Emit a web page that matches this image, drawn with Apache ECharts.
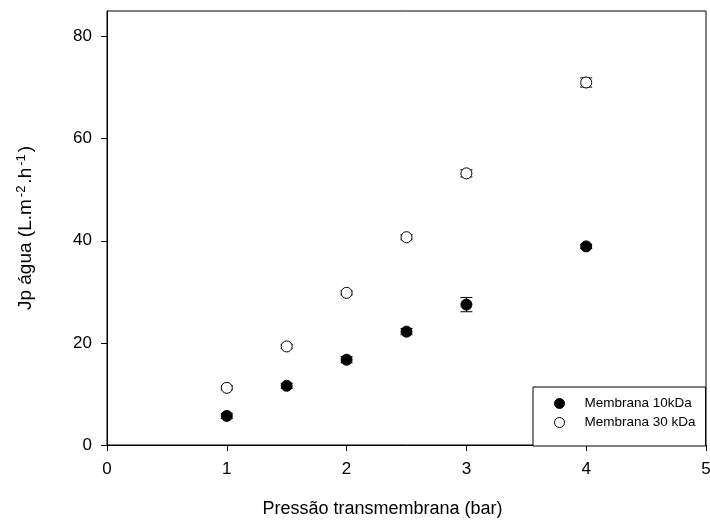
<!DOCTYPE html>
<html><head><meta charset="utf-8">
<script src="https://cdn.jsdelivr.net/npm/echarts@6/dist/echarts.min.js"></script>
<style>html,body{margin:0;padding:0;background:#fff}#c{width:710px;height:521px}</style>
</head><body><div id="c"></div>
<script>
const pressure = [1, 1.5, 2, 2.5, 3, 4];
const flux10 = [5.7, 11.6, 16.7, 22.2, 27.5, 38.9];
const err10 = [0.5, 0.5, 0.6, 0.6, 1.4, 0.4];
const flux30 = [11.2, 19.3, 29.8, 40.7, 53.2, 71.0];
const err30 = [0.4, 0.4, 0.4, 0.5, 0.7, 0.9];
const xTicks = [0, 1, 2, 3, 4, 5];
const yTicks = [0, 20, 40, 60, 80];
const seriesNames = ['Membrana 10kDa', 'Membrana 30 kDa'];

const font = 'Liberation Sans, Arial, sans-serif';
const chart = echarts.init(document.getElementById('c'));

function errData(ys, es) { return pressure.map((x, i) => [x, ys[i] - es[i], ys[i] + es[i]]); }
function renderErr(params, api) {
  const x = api.value(0);
  const lo = api.coord([x, api.value(1)]);
  const hi = api.coord([x, api.value(2)]);
  const hw = 6;
  const st = { stroke: '#000', lineWidth: 1 };
  return { type: 'group', children: [
    { type: 'line', shape: { x1: lo[0], y1: lo[1], x2: hi[0], y2: hi[1] }, style: st },
    { type: 'line', shape: { x1: lo[0] - hw, y1: lo[1], x2: lo[0] + hw, y2: lo[1] }, style: st },
    { type: 'line', shape: { x1: hi[0] - hw, y1: hi[1], x2: hi[0] + hw, y2: hi[1] }, style: st }
  ]};
}

chart.setOption({
  animation: false,
  backgroundColor: '#fff',
  textStyle: { fontFamily: font },
  grid: { left: 107, top: 11, right: 4, bottom: 76, show: true, borderColor: '#000', borderWidth: 1,
    containLabel: false, outerBoundsMode: 'none' },
  xAxis: {
    type: 'value', min: 0, max: 5, interval: 1,
    name: 'Pressão transmembrana (bar)', nameLocation: 'middle', nameGap: 55,
    nameTextStyle: { fontSize: 18, color: '#000', fontFamily: font, padding: [0, 48, 0, 0] },
    axisLine: { show: true, lineStyle: { color: '#000', width: 1 } },
    axisTick: { show: true, inside: false, length: 6, lineStyle: { color: '#000' } },
    axisLabel: { fontSize: 17, color: '#000', margin: 16, fontFamily: font, customValues: xTicks },
    splitLine: { show: false }
  },
  yAxis: {
    type: 'value', min: 0, max: 85,
    name: 'Jp água (L.m{sup|-2}.h{sup|-1})', nameLocation: 'middle', nameGap: 70, nameRotate: 90,
    nameTextStyle: { fontSize: 19, color: '#000', fontFamily: font,
      rich: { sup: { fontSize: 13, verticalAlign: 'top', padding: [0, 2, 9, 2], color: '#000', fontFamily: font } } },
    axisLine: { show: true, lineStyle: { color: '#000', width: 1 } },
    axisTick: { show: true, inside: false, length: 6, lineStyle: { color: '#000' }, customValues: yTicks },
    axisLabel: { fontSize: 17, color: '#000', margin: 15, fontFamily: font, customValues: yTicks },
    splitLine: { show: false }
  },
  legend: {
    left: 533, top: 387, orient: 'vertical',
    data: [
      { name: seriesNames[0], icon: 'circle', itemStyle: { color: '#000', borderColor: '#000', borderWidth: 1 } },
      { name: seriesNames[1], icon: 'circle', itemStyle: { color: '#fff', borderColor: '#000', borderWidth: 1 } }
    ],
    itemWidth: 10, itemHeight: 10, itemGap: 4,
    padding: [9, 10, 16, 21],
    borderColor: '#000', borderWidth: 1, backgroundColor: '#fff',
    textStyle: { fontSize: 13.5, color: '#000', fontFamily: font, lineHeight: 15, padding: [0, 0, 0, 15] }
  },
  series: [
    { type: 'custom', renderItem: renderErr, data: errData(flux10, err10), z: 1, silent: true },
    { type: 'custom', renderItem: renderErr, data: errData(flux30, err30), z: 1, silent: true },
    { name: seriesNames[0], type: 'scatter', symbol: 'circle', symbolSize: 11, z: 3,
      itemStyle: { color: '#000', borderColor: '#000', borderWidth: 1, opacity: 1 },
      data: pressure.map((x, i) => [x, flux10[i]]) },
    { name: seriesNames[1], type: 'scatter', symbol: 'circle', symbolSize: 11, z: 3,
      itemStyle: { color: '#fff', borderColor: '#000', borderWidth: 1, opacity: 1 },
      data: pressure.map((x, i) => [x, flux30[i]]) }
  ]
});
</script></body></html>
